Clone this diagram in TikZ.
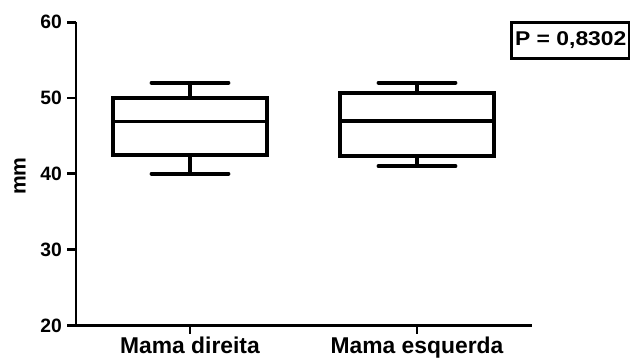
\documentclass[tikz,border=0pt]{standalone}
\usepackage{fontspec}
\setmainfont{Liberation Sans}
\newfontfamily\widesans[FakeStretch=1.15]{Liberation Sans}
\usetikzlibrary{positioning}

\begin{document}
\begin{tikzpicture}[x=0.03cm, y=0.2274cm,
  axisline/.style={line width=2.4pt},
  boxline/.style={line width=3.3pt},
  ticklabel/.style={font=\fontsize{16.5}{19}\selectfont\bfseries, inner sep=0pt},
  grouplabel/.style={font=\fontsize{19.5}{22}\selectfont\bfseries, inner sep=0pt}]
\useasboundingbox (-76,-4.18) rectangle (554,42.92);
% x positions (relative to the y axis), values shifted by 20
\def\xa{114}
\def\xb{341}
\def\bw{77}
\def\cw{38.5}

% axes
\coordinate (o) at (0,0);
\coordinate (ytop) at (0,40);
\coordinate (xend) at (456,0);
\draw[axisline] (ytop) -- (o) -- (xend);
\foreach \v in {20,30,40,50,60} {
  \coordinate (t\v) at (0,\v-20);
  \draw[axisline] (t\v) -- ++(-9,0);
  \node[ticklabel, anchor=east] (l\v) at (-14,\v-20) {\v};
}
\node[font=\fontsize{18}{21}\selectfont\bfseries, inner sep=0pt, rotate=90] (ylab) at (-56,19.7) {mm};

% group ticks and labels
\coordinate (ga) at (\xa,0);
\coordinate (gb) at (\xb,0);
\draw[axisline] (ga) -- ++(0,-1.1);
\draw[axisline] (gb) -- ++(0,-1.1);
\node[grouplabel, anchor=base] (na) at (\xa,-3.65) {Mama direita};
\node[grouplabel, anchor=base] (nb) at (\xb,-3.65) {Mama esquerda};

% box Mama direita
\draw[boxline] (\xa-\bw,22.5) rectangle (\xa+\bw,30);
\draw[boxline] (\xa-\bw,26.9) -- (\xa+\bw,26.9);
\draw[boxline] (\xa,30) -- (\xa,32);
\draw[boxline] (\xa,22.5) -- (\xa,20);
\draw[boxline, line cap=round] (\xa-\cw,32) -- (\xa+\cw,32);
\draw[boxline, line cap=round] (\xa-\cw,20) -- (\xa+\cw,20);

% box Mama esquerda
\draw[boxline] (\xb-\bw,22.3) rectangle (\xb+\bw,30.7);
\draw[boxline] (\xb-\bw,27) -- (\xb+\bw,27);
\draw[boxline] (\xb,30.7) -- (\xb,32);
\draw[boxline] (\xb,22.3) -- (\xb,21);
\draw[boxline, line cap=round] (\xb-\cw,32) -- (\xb+\cw,32);
\draw[boxline, line cap=round] (\xb-\cw,21) -- (\xb+\cw,21);

% p value
\node[draw, line width=2.6pt, anchor=north west, minimum height=36*0.03cm,
  inner xsep=3pt, font=\widesans\fontsize{17}{20}\selectfont\bfseries] (pval) at (434,40.15) {P = 0,8302};
\end{tikzpicture}
\end{document}
